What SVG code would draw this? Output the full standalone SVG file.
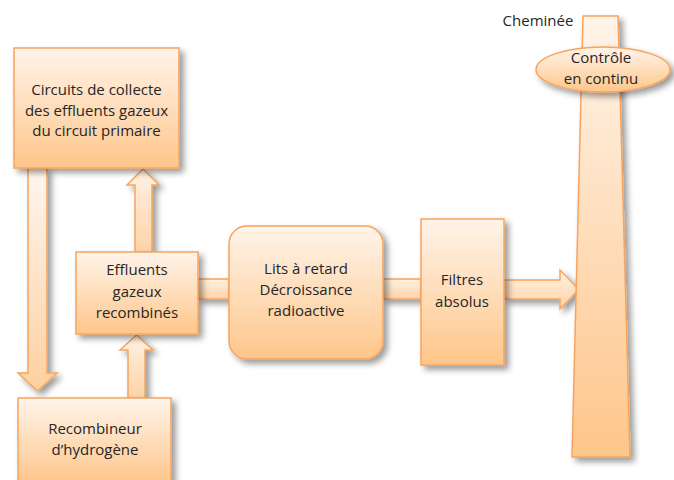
<svg xmlns="http://www.w3.org/2000/svg" width="674" height="480" viewBox="0 0 674 480">
<defs>
<linearGradient id="gBox" x1="0" y1="0" x2="0" y2="1">
<stop offset="0" stop-color="#fff4ea"/>
<stop offset="1" stop-color="#fec68a"/>
</linearGradient>
<linearGradient id="gConn" x1="0" y1="0" x2="0" y2="1">
<stop offset="0" stop-color="#fff2e4"/>
<stop offset="1" stop-color="#fdd3a6"/>
</linearGradient>
<linearGradient id="gDown" x1="0" y1="0" x2="0" y2="1">
<stop offset="0" stop-color="#fff6ee"/>
<stop offset="1" stop-color="#fdd0a0"/>
</linearGradient>
<filter id="sh" x="-20%" y="-20%" width="150%" height="150%">
<feGaussianBlur in="SourceAlpha" stdDeviation="3"/>
<feOffset dx="4" dy="4" result="b"/>
<feComponentTransfer><feFuncA type="linear" slope="0.4"/></feComponentTransfer>
<feMerge><feMergeNode/><feMergeNode in="SourceGraphic"/></feMerge>
</filter>
</defs>
<style>
.box{fill:url(#gBox);stroke:#f8a45e;stroke-width:1.5;}
.conn{fill:url(#gConn);stroke:#f8a45e;stroke-width:1.5;stroke-linejoin:miter;}
.down{fill:url(#gDown);stroke:#f8a45e;stroke-width:1.5;}
text{font-family:"Open Sans","Noto Sans","Liberation Sans",sans-serif;font-size:15px;fill:#262626;text-anchor:middle;}
</style>
<rect width="674" height="480" fill="#ffffff"/>

<g id="connectors" filter="url(#sh)">
<path class="down" d="M28,168 L47,168 L47,373 L57,373 L37.5,391 L18,373 L28,373 Z"/>
<path class="conn" d="M135,252 L135,185 L127,185 L143,169 L159,185 L152,185 L152,252 Z"/>
<path class="conn" d="M128,398 L128,350 L120,350 L136.5,335 L153,350 L145,350 L145,398 Z"/>
<rect class="conn" x="198" y="279" width="31" height="20"/>
<rect class="conn" x="383" y="279" width="38" height="20"/>
<path class="conn" d="M504,280 L560,280 L560,270 L579,289.5 L560,309 L560,299 L504,299 Z"/>
</g>

<g id="chimney" filter="url(#sh)">
<path class="box" d="M583,16 L618,16 L630,457 L572,457 Z"/>
</g>
<text x="538" y="26">Cheminée</text>

<g id="circuits" filter="url(#sh)">
<rect class="box" x="14" y="48" width="165" height="120"/>
</g>
<text x="96.5" y="95">Circuits de collecte</text>
<text x="96.5" y="115.5">des effluents gazeux</text>
<text x="96.5" y="136">du circuit primaire</text>

<g id="effluents" filter="url(#sh)">
<rect class="box" x="76" y="252" width="122" height="82"/>
</g>
<text x="137" y="275">Effluents</text>
<text x="137" y="297">gazeux</text>
<text x="137" y="318">recombinés</text>

<g id="recombineur" filter="url(#sh)">
<rect class="box" x="18" y="398" width="153" height="86"/>
</g>
<text x="95" y="434">Recombineur</text>
<text x="95" y="455">d’hydrogène</text>

<g id="lits" filter="url(#sh)">
<rect class="box" x="229" y="226" width="154" height="133" rx="18" ry="18"/>
</g>
<text x="306" y="274">Lits à retard</text>
<text x="306" y="295">Décroissance</text>
<text x="306" y="316">radioactive</text>

<g id="filtres" filter="url(#sh)">
<rect class="box" x="421" y="219" width="83" height="146"/>
</g>
<text x="462" y="285">Filtres</text>
<text x="462" y="307">absolus</text>

<g id="controle" filter="url(#sh)">
<ellipse class="box" cx="603" cy="69.5" rx="67" ry="22.5"/>
</g>
<text x="601" y="63">Contrôle</text>
<text x="601" y="84">en continu</text>
</svg>
